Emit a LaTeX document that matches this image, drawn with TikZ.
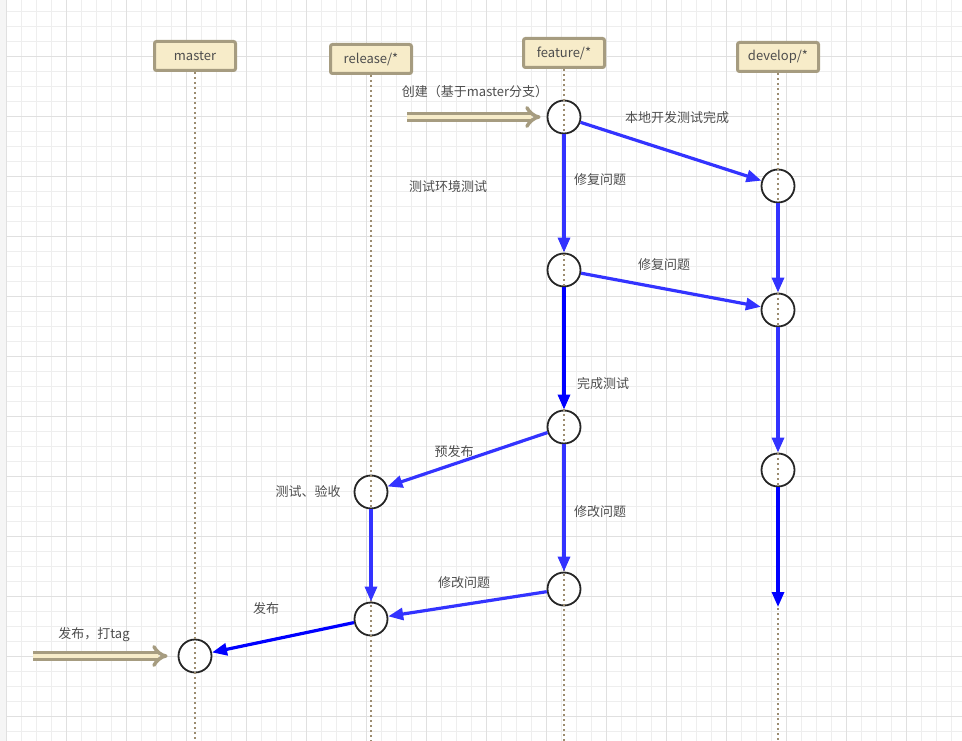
\documentclass[tikz,border=0pt]{standalone}
\usepackage{fontspec}
\newfontfamily\cjk{Noto Sans CJK SC}
\usetikzlibrary{arrows.meta}

\definecolor{gridminor}{HTML}{EEEEEE}
\definecolor{gridmajor}{HTML}{E0E0E0}
\definecolor{boxline}{HTML}{A69C80}
\definecolor{boxfill}{HTML}{F7ECC9}
\definecolor{lifecol}{HTML}{9C8C70}
\definecolor{flowlight}{HTML}{3333FF}
\definecolor{flowdark}{HTML}{0000FF}
\definecolor{txtgray}{HTML}{4D4D4D}

\tikzset{
    branch/.style={draw=boxline, fill=boxfill, line width=3pt, rounded corners=2pt,
        minimum width=81pt, minimum height=29pt, text=txtgray,
        font=\cjk\fontsize{13}{15}\selectfont},
    commit/.style={circle, draw=black!85, fill=white, line width=1.8pt, minimum size=33pt, inner sep=0pt},
    lifeline/.style={lifecol, line width=2.2pt, dash pattern=on 2pt off 3pt},
    flow/.style={flowlight, line width=3.2pt, -{Triangle[length=15pt,width=12pt]}},
    flowb/.style={flow, flowdark},
    fat/.style={draw=boxline, line width=3.5pt, double=boxfill, double distance=3.5pt,
        -{Implies[length=10pt,width=22pt]}},
    lbl/.style={text=txtgray, font=\cjk\fontsize{13}{15}\selectfont, inner sep=1pt},
}

\begin{document}
\begin{tikzpicture}[x=1pt, y=-1pt]
    \useasboundingbox (0,0) rectangle (962,741);
    % background grid
    \fill[gridminor!60] (0,0) rectangle (6,741);
    \foreach \i in {0,...,63}
        \draw[gridminor, line width=1pt] ({6.7+15*\i},0) -- ++(0,741);
    \foreach \i in {0,...,49}
        \draw[gridminor, line width=1pt] (6,{11.7+15*\i}) -- ++(956,0);
    \foreach \i in {0,...,15}
        \draw[gridmajor, line width=1pt] ({6.7+60*\i},0) -- ++(0,741);
    \foreach \i in {0,...,12}
        \draw[gridmajor, line width=1pt] (6,{56.7+60*\i}) -- ++(956,0);
    %
    % branches
    \node[branch] (master)  at (195,56) {master};
    \node[branch] (release) at (371,59) {release/*};
    \node[branch] (feature) at (564,53) {feature/*};
    \node[branch] (develop) at (778,57) {develop/*};
    %
    % commits
    \node[commit] (f1) at (564,117) {};
    \node[commit] (d1) at (778,186) {};
    \node[commit] (f2) at (564,270) {};
    \node[commit] (d2) at (778,310) {};
    \node[commit] (f3) at (564,427) {};
    \node[commit] (d3) at (778,470) {};
    \node[commit] (r1) at (371,492) {};
    \node[commit] (f4) at (564,589) {};
    \node[commit] (r2) at (371,619) {};
    \node[commit] (m1) at (195,656) {};
    \coordinate (dend) at (778,607);
    \coordinate (newin) at (407,117);
    \coordinate (tagin) at (33,656);
    %
    % lifelines
    \foreach \b in {master,release,feature,develop}
        \draw[lifeline] (\b.south) -- (\b.south |- 0,741);
    %
    % flows
    \draw[fat, shorten >=6pt] (newin) -- (f1);
    \draw[fat, shorten >=10pt] (tagin) -- (m1);
    \draw[flow]  (f1) -- (d1);
    \draw[flow]  (f1) -- (f2);
    \draw[flow]  (d1) -- (d2);
    \draw[flow]  (f2) -- (d2);
    \draw[flowb] (f2) -- (f3);
    \draw[flow]  (d2) -- (d3);
    \draw[flowb] (d3) -- (dend);
    \draw[flow]  (f3) -- (r1);
    \draw[flow]  (f3) -- (f4);
    \draw[flow]  (r1) -- (r2);
    \draw[flow]  (f4) -- (r2);
    \draw[flowb] (r2) -- (m1);
    %
    % labels
    \node[lbl] (lnew)   at (475,92)  {创建（基于master分支）};
    \node[lbl] (ldone)  at (677,118) {本地开发测试完成};
    \node[lbl] (lfix1)  at (600,180) {修复问题};
    \node[lbl] (ltest)  at (448,187) {测试环境测试};
    \node[lbl] (lfix2)  at (664,265) {修复问题};
    \node[lbl] (lfin)   at (603,384) {完成测试};
    \node[lbl] (lpre)   at (454,452) {预发布};
    \node[lbl] (lcheck) at (308,492) {测试、验收};
    \node[lbl] (lmod1)  at (600,512) {修改问题};
    \node[lbl] (lmod2)  at (464,583) {修改问题};
    \node[lbl] (lpub)   at (266,609) {发布};
    \node[lbl] (ltag)   at (94,635)  {发布，打tag};
\end{tikzpicture}
\end{document}
